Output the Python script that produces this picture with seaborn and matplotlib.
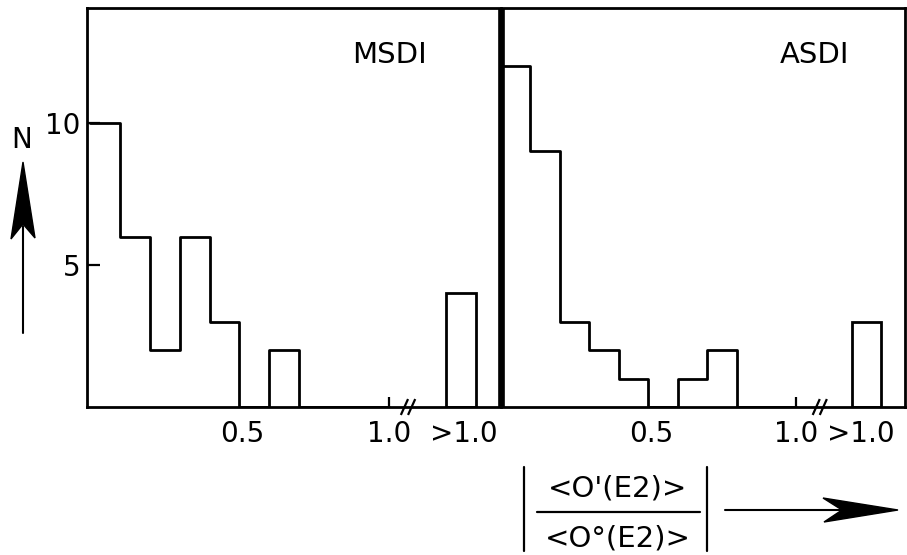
import numpy as np
import pandas as pd
import matplotlib
matplotlib.use("Agg")
import matplotlib.pyplot as plt
from matplotlib.patches import Polygon
from matplotlib.lines import Line2D
import seaborn as sns

# ---------------- data ----------------
bin_edges = [0.0, 0.1, 0.2, 0.3, 0.4, 0.5, 0.6, 0.7, 0.8, 0.9, 1.0]
msdi_counts = [10, 6, 2, 6, 3, 0, 2, 0, 0, 0]
asdi_counts = [12, 9, 3, 2, 1, 0, 1, 2, 0, 0]
over_edges = [1.19, 1.29]          # the ">1.0" bin, drawn after the axis break
msdi_over = [4]
asdi_over = [3]
panel_names = ["MSDI", "ASDI"]
y_ticks = [5, 10]
x_tick_main = [1.0]
x_tick_labels_main = ["1.0"]

# ---------------- style ----------------
sns.set_style("ticks")
plt.rcParams["font.family"] = ["DejaVu Sans"]
plt.rcParams["text.color"] = "black"

W, H = 907, 555
fig = plt.figure(figsize=(W / 100, H / 100), dpi=100)

def frac_box(x0, x1, ytop, ybot):
    return [x0 / W, (H - ybot) / H, (x1 - x0) / W, (ybot - ytop) / H]

axL = fig.add_axes(frac_box(87, 501, 8, 407))
axR = fig.add_axes(frac_box(501, 905, 8, 407))
axR.patch.set_alpha(0)

centers = [(a + b) / 2 for a, b in zip(bin_edges[:-1], bin_edges[1:])]
over_center = [(over_edges[0] + over_edges[1]) / 2]

panels = [
    (axL, msdi_counts, msdi_over, (-0.01, 1.375), 1.25, 1.064, 0.51),
    (axR, asdi_counts, asdi_over, (0.0, 1.37), 1.22, 1.081, 0.51),
]

lw = 2.0
fs = 20
for i, (ax, counts, over, xlim, over_lab, brk, half) in enumerate(panels):
    df = pd.DataFrame({"x": centers, "w": counts})
    sns.histplot(data=df, x="x", weights="w", bins=bin_edges, element="step",
                 fill=False, color="black", linewidth=lw, ax=ax)
    dfo = pd.DataFrame({"x": over_center, "w": over})
    sns.histplot(data=dfo, x="x", weights="w", bins=over_edges, element="bars",
                 fill=False, color="black", linewidth=lw, ax=ax)
    ax.set_xlim(*xlim)
    ax.set_ylim(0, 14.05)
    ax.set_xlabel("")
    ax.set_ylabel("")
    for s in ax.spines.values():
        s.set_linewidth(2.0)
        s.set_color("black")
        s.set_visible(True)
    ax.set_xticks(x_tick_main)
    ax.set_xticklabels(x_tick_labels_main)
    ax.set_xticks([half, over_lab], minor=True)
    ax.set_xticklabels(["0.5", ">1.0"], minor=True)
    ax.tick_params(axis="x", which="major", direction="in", length=7, width=1.6,
                   labelsize=fs, pad=9, colors="black")
    ax.tick_params(axis="x", which="minor", length=0, labelsize=fs, pad=9,
                   colors="black")
    ax.text(0.73 if i == 0 else 0.775, 0.882, panel_names[i], transform=ax.transAxes,
            ha="center", va="center", fontsize=21)
    # axis-break marks "//"
    for off in (-0.012, 0.012):
        ax.plot([brk + off - 0.012, brk + off + 0.012], [-0.28, 0.28],
                color="black", lw=1.6, clip_on=False, solid_capstyle="butt")

axL.set_yticks(y_ticks)
axL.set_yticklabels([str(v) for v in y_ticks])
axL.tick_params(axis="y", direction="in", length=9, width=1.6, labelsize=fs,
                pad=5, colors="black")
axL.spines["right"].set_visible(False)
axR.spines["left"].set_linewidth(4.8)
axR.spines["left"].set_capstyle("butt")
axR.set_yticks([])

# ---------------- annotation overlay (pixel coordinates) ----------------
ov = fig.add_axes([0, 0, 1, 1])
ov.set_xlim(0, W)
ov.set_ylim(H, 0)
ov.axis("off")
ov.patch.set_alpha(0)

# vertical N arrow
ov.text(22, 140, "N", ha="center", va="center", fontsize=fs)
ov.add_line(Line2D([23, 23], [333, 226], color="black", lw=1.5))
ov.add_patch(Polygon([(23, 162), (35, 238), (23, 224), (11, 239)],
                     closed=True, color="black"))

# horizontal arrow
ov.add_line(Line2D([725, 845], [510, 510], color="black", lw=1.5))
ov.add_patch(Polygon([(898, 510), (823, 498), (842, 510), (824, 522)],
                     closed=True, color="black"))

# axis quantity |<O'(E2)> / <O°(E2)>|
ov.text(618, 489, "<O'(E2)>", ha="center", va="center", fontsize=21)
ov.text(618, 539, "<O°(E2)>", ha="center", va="center", fontsize=21)
ov.add_line(Line2D([537, 700], [512, 512], color="black", lw=1.6))
ov.add_line(Line2D([524, 524], [467, 551], color="black", lw=1.6))
ov.add_line(Line2D([707, 707], [467, 551], color="black", lw=1.6))

fig.savefig("out.png", dpi=100)
